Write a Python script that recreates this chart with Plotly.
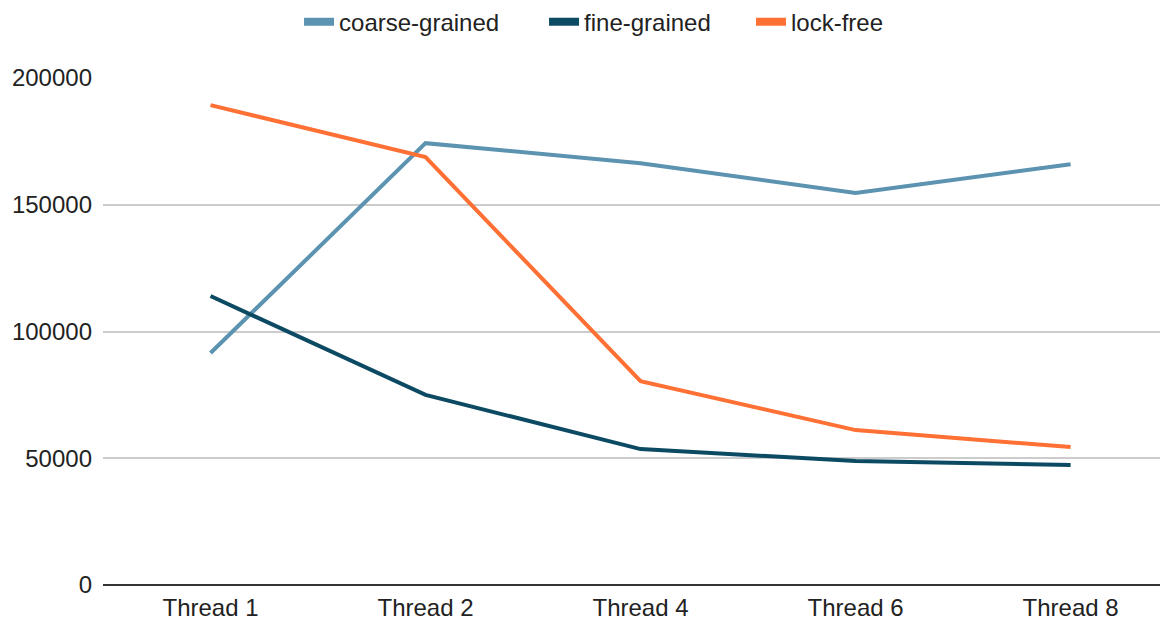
import plotly.graph_objects as go

categories = ["Thread 1", "Thread 2", "Thread 4", "Thread 6", "Thread 8"]
coarse_grained = [91500, 174300, 166400, 154600, 166000]
fine_grained = [114000, 75000, 53600, 48900, 47300]
lock_free = [189300, 168800, 80400, 61100, 54400]
y_ticks = [0, 50000, 100000, 150000, 200000]

series = [
    ("coarse-grained", coarse_grained, "#5b93b1"),
    ("fine-grained", fine_grained, "#0c4a64"),
    ("lock-free", lock_free, "#ff7034"),
]
legend_ids = ["legend", "legend2", "legend3"]
legend_x = [0.2509, 0.4621, 0.6405]

fig = go.Figure()
for name, vals, color in series:
    fig.add_trace(go.Scatter(x=categories, y=vals, name=name, mode="lines",
                             line=dict(color=color, width=4), showlegend=False))
# legend swatches (thicker, like the reference)
for (name, vals, color), lid in zip(series, legend_ids):
    fig.add_trace(go.Scatter(x=[categories[0]], y=[None], name=name, mode="lines",
                             line=dict(color=color, width=8), showlegend=True,
                             legend=lid, hoverinfo="skip"))

font_family = "Liberation Sans, Arial, sans-serif"
layout_legends = {}
for lid, lx in zip(legend_ids, legend_x):
    layout_legends[lid] = dict(orientation="h", xref="container", yref="container",
                               x=lx, xanchor="left", y=0.977, yanchor="middle",
                               font=dict(size=24, color="#222222"), itemwidth=30,
                               bgcolor="rgba(0,0,0,0)")

fig.update_layout(
    width=1160, height=618,
    margin=dict(l=95, r=0, t=70, b=41),
    plot_bgcolor="white", paper_bgcolor="white",
    font=dict(family=font_family, size=24, color="#222222"),
    showlegend=True,
    xaxis=dict(type="category", range=[-0.5, 4.453], showgrid=False,
               showline=False, zeroline=False, ticks="",
               tickfont=dict(size=24), ticklabelstandoff=6, automargin=False),
    yaxis=dict(range=[0, 200000], tickvals=y_ticks,
               ticktext=[str(v) for v in y_ticks],
               showgrid=True, gridcolor="#cccccc", gridwidth=1.5,
               zeroline=True, zerolinecolor="#333333", zerolinewidth=2,
               showline=False, ticks="", tickfont=dict(size=24),
               ticklabelstandoff=10, automargin=False),
    **layout_legends,
)

fig.write_html("out.html")
